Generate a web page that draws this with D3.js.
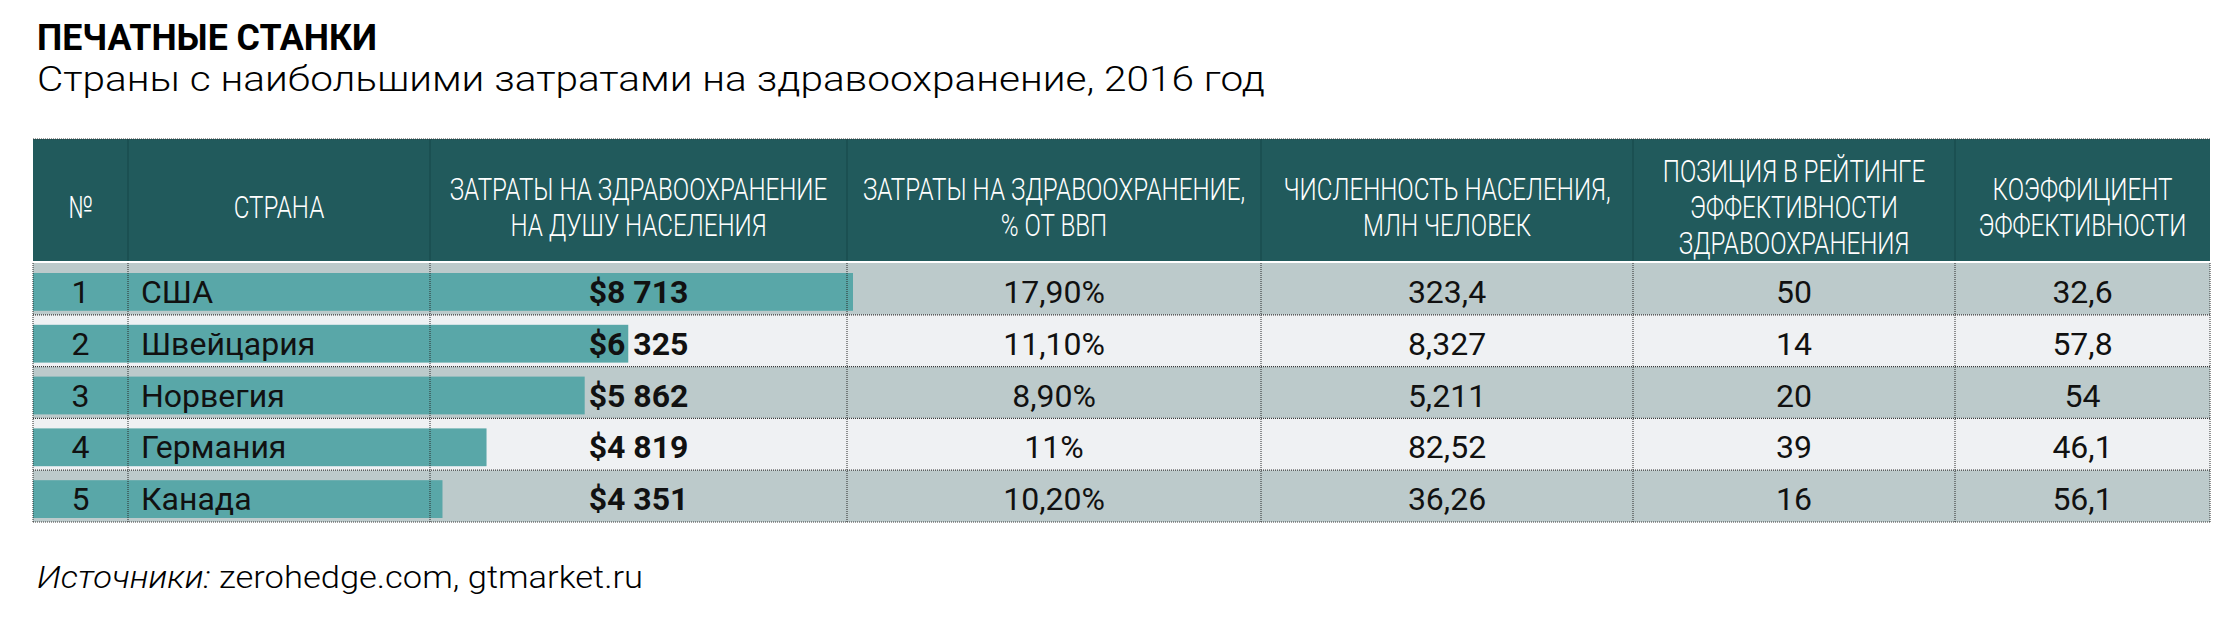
<!DOCTYPE html>
<html>
<head>
<meta charset="utf-8">
<script src="https://cdn.jsdelivr.net/npm/d3@7"></script>
<style>
  body { margin: 0; background: #ffffff; }
  svg { display: block; }
</style>
</head>
<body>
<script>
// table data
var ranks = [1, 2, 3, 4, 5];
var countries = ["США", "Швейцария", "Норвегия", "Германия", "Канада"];
var spending = [8713, 6325, 5862, 4819, 4351];
var gdpShare = ["17,90%", "11,10%", "8,90%", "11%", "10,20%"];
var population = ["323,4", "8,327", "5,211", "82,52", "36,26"];
var ratingPos = [50, 14, 20, 39, 16];
var efficiency = ["32,6", "57,8", "54", "46,1", "56,1"];
var headers = [
    ["№"],
    ["СТРАНА"],
    ["ЗАТРАТЫ НА ЗДРАВООХРАНЕНИЕ", "НА ДУШУ НАСЕЛЕНИЯ"],
    ["ЗАТРАТЫ НА ЗДРАВООХРАНЕНИЕ,", "% ОТ ВВП"],
    ["ЧИСЛЕННОСТЬ НАСЕЛЕНИЯ,", "МЛН ЧЕЛОВЕК"],
    ["ПОЗИЦИЯ В РЕЙТИНГЕ", "ЭФФЕКТИВНОСТИ", "ЗДРАВООХРАНЕНИЯ"],
    ["КОЭФФИЦИЕНТ", "ЭФФЕКТИВНОСТИ"]
];

window.onload = function(){

    var w = 2237, h = 621;
    var font = "Roboto, 'Open Sans', sans-serif";
    var svg = d3.select("body").append("svg")
        .attr("width", w)
        .attr("height", h);

    // column edges of the table
    var edges = [33, 128, 430, 847, 1261, 1633, 1955, 2210];
    var left = edges[0], right = edges[edges.length - 1];
    var headTop = 139, headBottom = 263, bodyBottom = 522;

    var y = d3.scaleBand()
        .domain(ranks)
        .range([headBottom, bodyBottom]);

    var x = d3.scaleLinear()
        .domain([0, d3.max(spending)])
        .range([left, 853]);

    var money = d3.formatLocale({
        decimal: ",", thousands: "\u00a0", grouping: [3], currency: ["$", ""]
    }).format("$,d");

    var rows = ranks.map(function(r, i){
        return {
            rank: r, country: countries[i], spend: spending[i],
            cells: [gdpShare[i], population[i], ratingPos[i], efficiency[i]]
        };
    });

    //title block
    svg.append("text")
        .attr("x", 37).attr("y", 50)
        .attr("font-family", font).attr("font-weight", 700)
        .attr("font-size", 37)
        .attr("textLength", 340).attr("lengthAdjust", "spacingAndGlyphs")
        .text("ПЕЧАТНЫЕ СТАНКИ");

    svg.append("text")
        .attr("x", 37).attr("y", 91)
        .attr("font-family", font).attr("font-weight", 300)
        .attr("font-size", 35)
        .attr("textLength", 1228).attr("lengthAdjust", "spacingAndGlyphs")
        .text("Страны с наибольшими затратами на здравоохранение, 2016 год");

    //header band
    svg.append("rect")
        .attr("x", left).attr("y", headTop)
        .attr("width", right - left).attr("height", headBottom - headTop - 2)
        .style("fill", "#215a5c");

    var head = svg.selectAll(".head")
        .data(headers)
        .enter()
        .append("text")
        .attr("class", "head")
        .attr("text-anchor", "middle")
        .attr("font-family", font).attr("font-weight", 300)
        .attr("font-size", 31)
        .style("fill", "#ffffff")
        .attr("transform", function(d, i){
            var cx = (edges[i] + edges[i + 1]) / 2;
            return "translate(" + cx + ",0) scale(0.78,1)";
        });

    head.selectAll("tspan")
        .data(function(d){
            return d.map(function(t, j){ return {t: t, j: j, n: d.length}; });
        })
        .enter()
        .append("tspan")
        .attr("x", 0)
        .attr("y", function(d){
            return 218 + (d.j - (d.n - 1) / 2) * 36;
        })
        .text(function(d){ return d.t; });

    //row backgrounds
    svg.selectAll(".rowBg")
        .data(rows)
        .enter()
        .append("rect")
        .attr("class", "rowBg")
        .attr("x", left)
        .attr("y", function(d){ return y(d.rank); })
        .attr("width", right - left)
        .attr("height", y.bandwidth())
        .style("fill", function(d, i){ return i % 2 ? "#eff1f3" : "#bccacb"; });

    //spending bars
    svg.selectAll(".bar")
        .data(rows)
        .enter()
        .append("rect")
        .attr("class", "bar")
        .attr("x", x(0))
        .attr("y", function(d){ return y(d.rank) + 10; })
        .attr("width", function(d){ return x(d.spend) - x(0); })
        .attr("height", y.bandwidth() - 14)
        .style("fill", "#59a7a8");

    //dotted grid
    svg.selectAll(".vline")
        .data(edges)
        .enter()
        .append("line")
        .attr("class", "vline")
        .attr("x1", function(d){ return d; })
        .attr("x2", function(d){ return d; })
        .attr("y1", headBottom)
        .attr("y2", bodyBottom)
        .style("stroke", "#2a2a2a")
        .style("stroke-width", 1)
        .style("stroke-dasharray", "1,1");

    svg.selectAll(".hvline")
        .data(edges.slice(1, -1))
        .enter()
        .append("line")
        .attr("class", "hvline")
        .attr("x1", function(d){ return d; })
        .attr("x2", function(d){ return d; })
        .attr("y1", headTop)
        .attr("y2", headBottom - 2)
        .style("stroke", "#174648")
        .style("stroke-width", 1);

    svg.selectAll(".hline")
        .data(ranks.slice(1).map(function(r){ return y(r); }).concat([headTop, bodyBottom]))
        .enter()
        .append("line")
        .attr("class", "hline")
        .attr("x1", left).attr("x2", right)
        .attr("y1", function(d){ return d; })
        .attr("y2", function(d){ return d; })
        .style("stroke", "#3a3a3a")
        .style("stroke-width", 1.2)
        .style("stroke-dasharray", "1,1");

    //row texts
    var cellText = function(sel){
        return sel.attr("font-family", font)
            .attr("font-size", 32)
            .style("fill", "#111111");
    };
    var base = function(d){ return y(d.rank) + 10 + (y.bandwidth() - 14) / 2 + 11; };

    cellText(svg.selectAll(".num").data(rows).enter().append("text"))
        .attr("class", "num")
        .attr("text-anchor", "middle")
        .attr("x", (edges[0] + edges[1]) / 2)
        .attr("y", base)
        .text(function(d){ return d.rank; });

    cellText(svg.selectAll(".country").data(rows).enter().append("text"))
        .attr("class", "country")
        .attr("x", 141)
        .attr("y", base)
        .text(function(d){ return d.country; });

    cellText(svg.selectAll(".spend").data(rows).enter().append("text"))
        .attr("class", "spend")
        .attr("text-anchor", "middle")
        .attr("font-weight", 700)
        .attr("x", (edges[2] + edges[3]) / 2)
        .attr("y", base)
        .text(function(d){ return money(d.spend); });

    var cellRows = svg.selectAll(".cells")
        .data(rows)
        .enter()
        .append("g")
        .attr("class", "cells");

    cellText(cellRows.selectAll("text")
        .data(function(d){
            return d.cells.map(function(c, k){ return {v: c, k: k, row: d}; });
        })
        .enter()
        .append("text"))
        .attr("text-anchor", "middle")
        .attr("x", function(d){ return (edges[d.k + 3] + edges[d.k + 4]) / 2; })
        .attr("y", function(d){ return base(d.row); })
        .text(function(d){ return d.v; });

    //source line
    var src = svg.append("text")
        .attr("x", 37).attr("y", 588)
        .attr("font-family", font).attr("font-weight", 300)
        .attr("font-size", 32)
        .attr("textLength", 606).attr("lengthAdjust", "spacingAndGlyphs");
    src.append("tspan").attr("font-style", "italic").text("Источники: ");
    src.append("tspan").text("zerohedge.com, gtmarket.ru");
};
</script>
</body>
</html>
